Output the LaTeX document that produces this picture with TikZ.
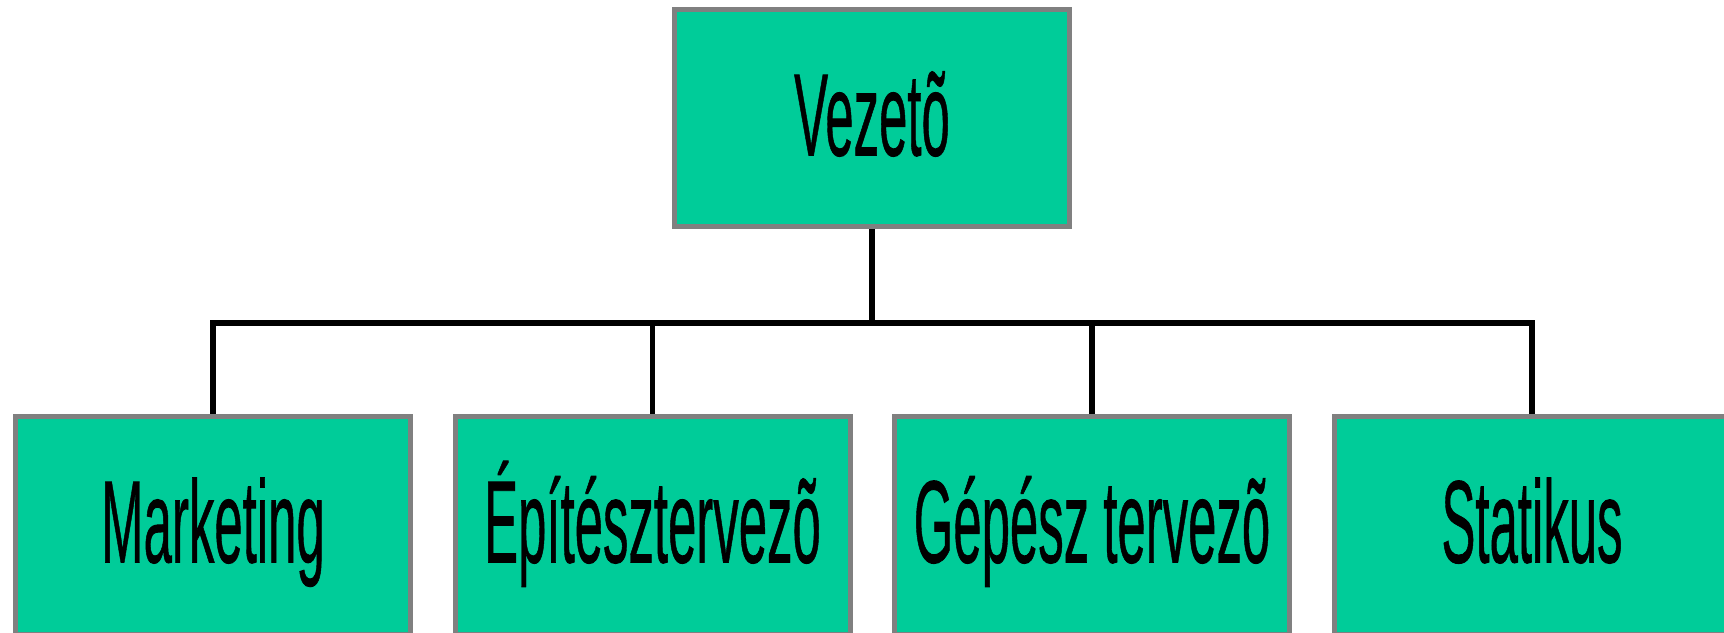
\documentclass[tikz,border=0pt]{standalone}
\usepackage{fontspec}
\setmainfont{Liberation Sans}
\newfontfamily\boxfont[FakeBold=0.8]{Liberation Sans}
\usetikzlibrary{backgrounds}
\definecolor{boxfill}{RGB}{0,204,153}
\definecolor{boxline}{RGB}{128,128,128}
\newcommand{\narrowtext}[1]{\scalebox{0.434}[1]{#1}}
\tikzset{
  orgbox/.style={draw=boxline, fill=boxfill, line width=5pt, rectangle,
    minimum width=395pt, minimum height=217pt, inner sep=0pt,
    text height=100pt, text depth=26pt, font={\boxfont\fontsize{117.3}{120}\selectfont}},
  conn/.style={draw=black, line width=5.5pt}
}
\begin{document}
\begin{tikzpicture}[x=1pt,y=1pt]
\useasboundingbox (0,0) rectangle (1724,632);
\clip (0,0) rectangle (1724,632);
\node[orgbox] (top) at (872,513.5) {\narrowtext{Vezetõ}};
\node[orgbox] (b1) at (213,106.5) {\narrowtext{Marketing}};
\node[orgbox] (b2) at (652.5,106.5) {\narrowtext{Építésztervezõ}};
\node[orgbox] (b3) at (1092,106.5) {\narrowtext{Gépész tervezõ}};
\node[orgbox] (b4) at (1532,106.5) {\narrowtext{Statikus}};
\coordinate (bus) at (872,309);
\begin{scope}[on background layer]
\draw[conn] (top.south) -- (bus);
\draw[conn] (b1.north) |- (bus) -| (b4.north);
\draw[conn] (b2.north) -- (b2.north |- bus);
\draw[conn] (b3.north) -- (b3.north |- bus);
\end{scope}
\end{tikzpicture}
\end{document}
